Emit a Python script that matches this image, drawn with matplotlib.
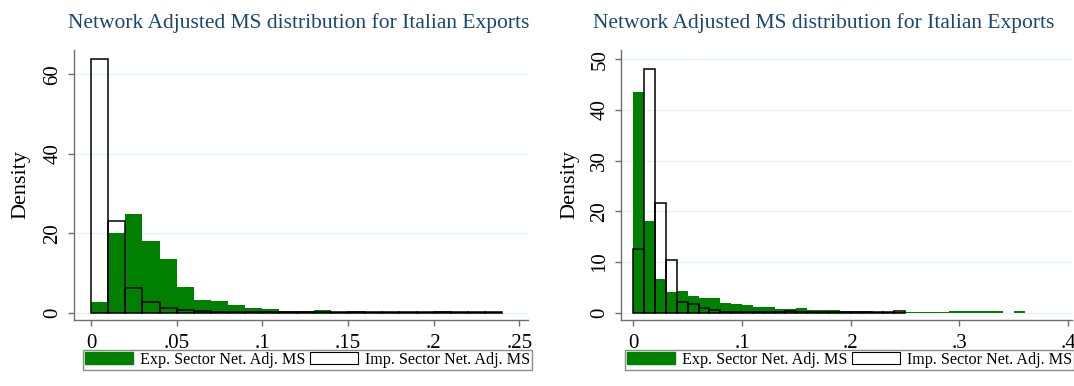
import numpy as np
import matplotlib
matplotlib.use('Agg')
import matplotlib.pyplot as plt
from matplotlib.patches import Patch

plt.rcParams['font.family'] = ['Liberation Serif', 'DejaVu Serif']

# bin width 0.01, bins start at 0
binWidth = 0.01

# left panel
expLeft = [2.7, 20.0, 24.9, 18.0, 13.4, 6.5, 3.2, 2.9, 1.9, 1.1,
           0.85, 0.5, 0.5, 0.6, 0.15, 0.35, 0.1, 0.05, 0.05, 0.05,
           0.4, 0.05, 0.05, 0.05]
impLeft = [63.8, 23.1, 6.1, 2.6, 1.2, 0.7, 0.3, 0.15, 0.1, 0.1,
           0.08, 0.08, 0.05, 0.05, 0.05, 0.05, 0.05, 0.05, 0.05, 0.05,
           0.05, 0.05, 0.05, 0.05]

# right panel
expRight = [43.6, 18.1, 6.6, 4.1, 4.2, 3.2, 2.8, 2.9, 2.0, 1.7,
            1.5, 1.2, 1.2, 0.7, 0.7, 1.0, 0.5, 0.6, 0.6, 0.4,
            0.4, 0.4, 0.2, 0.2, 0.2, 0.2, 0.15, 0.15, 0.15, 0.3,
            0.3, 0.3, 0.3, 0.3, 0.0, 0.3]
impRight = [12.6, 48.0, 21.6, 10.3, 2.05, 1.65, 0.9, 0.6, 0.1, 0.2,
            0.05, 0.05, 0.05, 0.05, 0.3, 0.05, 0.05, 0.05, 0.05, 0.05,
            0.05, 0.05, 0.05, 0.05, 0.3]

titleText = 'Network Adjusted MS distribution for Italian Exports'
legendLabels = ['Exp. Sector Net. Adj. MS', 'Imp. Sector Net. Adj. MS']

xTicksLeft = [0, 0.05, 0.1, 0.15, 0.2, 0.25]
xLabelsLeft = ['0', '.05', '.1', '.15', '.2', '.25']
yTicksLeft = [0, 20, 40, 60]
xTicksRight = [0, 0.1, 0.2, 0.3, 0.4]
xLabelsRight = ['0', '.1', '.2', '.3', '.4']
yTicksRight = [0, 10, 20, 30, 40, 50]

green = '#008000'
titleColor = '#1a476f'
axisColor = '#6e6e6e'
gridColor = '#eaf2f3'

W, H = 1074, 386
fig = plt.figure(figsize=(W / 100, H / 100), dpi=100)


def drawPanel(rect, expVals, impVals, xTicks, xLabels, yTicks, xLim, yLim,
              titleX, legendLeft, ylabelPad):
    ax = fig.add_axes(rect)
    edges = np.arange(len(expVals)) * binWidth
    ax.bar(edges, expVals, width=binWidth, align='edge', color=green,
           linewidth=0, zorder=2)
    edgesImp = np.arange(len(impVals)) * binWidth
    ax.bar(edgesImp, impVals, width=binWidth, align='edge', fill=False,
           edgecolor='black', linewidth=1.1, zorder=3)
    ax.set_xlim(xLim)
    ax.set_ylim(yLim)
    for y in yTicks:
        ax.axhline(y, color=gridColor, linewidth=1, zorder=1)
    ax.set_xticks(xTicks)
    ax.set_xticklabels(xLabels)
    ax.set_yticks(yTicks)
    ax.set_yticklabels([str(v) for v in yTicks], rotation=90, va='center')
    ax.tick_params(axis='both', length=4.5, width=1, color=axisColor,
                   labelsize=15)
    ax.tick_params(axis='x', pad=5.5)
    ax.tick_params(axis='y', pad=4)
    for s in ['top', 'right']:
        ax.spines[s].set_visible(False)
    for s in ['left', 'bottom']:
        ax.spines[s].set_color(axisColor)
        ax.spines[s].set_linewidth(1)
    ax.set_ylabel('Density', fontsize=16, labelpad=ylabelPad)
    fig.text(titleX / W, 1 - 23 / H, titleText, ha='center', va='center',
             fontsize=15.5, color=titleColor)
    handles = [Patch(facecolor=green, edgecolor=green),
               Patch(facecolor='white', edgecolor='black', linewidth=0.8)]
    leg = fig.legend(handles, legendLabels, ncol=2, loc='upper left',
                     bbox_to_anchor=(legendLeft / W, 1 - 350 / H),
                     fontsize=11.6, frameon=True, fancybox=False,
                     edgecolor=axisColor, handlelength=3.0, handleheight=0.8,
                     handletextpad=0.4, columnspacing=0.3, borderpad=0.12,
                     borderaxespad=0)
    leg.get_frame().set_linewidth(1)
    return ax


drawPanel([74 / W, 1 - 320 / H, 454 / W, 270 / H], expLeft, impLeft,
          xTicksLeft, xLabelsLeft, yTicksLeft, (-0.0099, 0.255), (-1.84, 66.1),
          299, 83, 9.5)
drawPanel([621 / W, 1 - 320 / H, 451 / W, 270 / H], expRight, impRight,
          xTicksRight, xLabelsRight, yTicksRight, (-0.0113, 0.4036), (-1.44, 51.8),
          824, 625, 8)

fig.savefig('out.png', dpi=100, facecolor='white')
